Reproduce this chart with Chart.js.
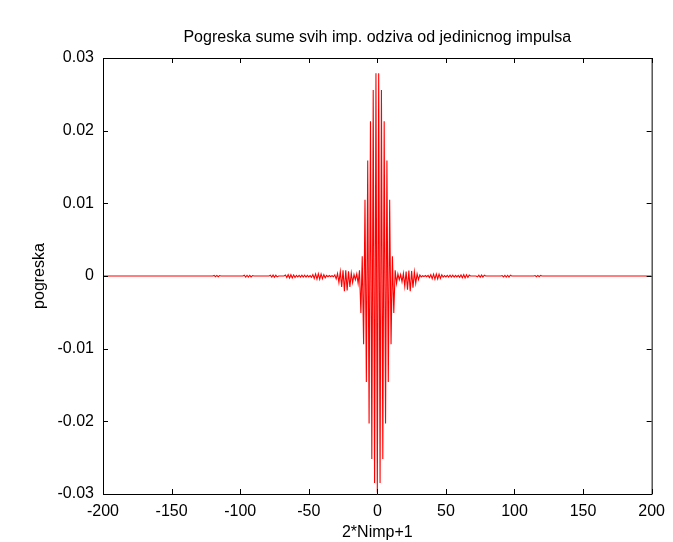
<!DOCTYPE html>
<html>
<head>
<meta charset="utf-8">
<title>Pogreska sume svih imp. odziva</title>
<script src="https://cdn.jsdelivr.net/npm/chart.js@4.4.1/dist/chart.umd.min.js"></script>
<style>
  html, body { margin: 0; padding: 0; background: #fff; }
  canvas { display: block; }
</style>
</head>
<body>
<canvas id="errChart" width="673" height="542"></canvas>
<script>
const chartTitle = 'Pogreska sume svih imp. odziva od jedinicnog impulsa';
const xLabel = '2*Nimp+1';
const yLabel = 'pogreska';

const xTicks = [-200, -150, -100, -50, 0, 50, 100, 150, 200];
const yTicks = [-0.03, -0.02, -0.01, 0, 0.01, 0.02, 0.03];

// x positions (2*Nimp+1) and the error
const nimp = [
  -200, -120,
  -119, -118, -117, -116, -115, -114,
  -98, -97, -96, -95, -94, -93, -92, -91, -90,
  -79, -78, -77, -76, -75, -74, -73, -72,
  -68, -67, -66, -65, -64, -63, -62, -61, -60, -59, -58, -57, -56, -55, -54, -53, -52, -51, -50, -49,
  -48, -47, -46, -45, -44, -43, -42, -41, -40, -39, -38, -37, -36, -35, -34, -33,
  -32, -31, -30, -29, -28, -27, -26, -25, -24, -23, -22, -21, -20, -19, -18, -17,
  -16, -15, -14, -13, -12, -11, -10, -9, -8, -7, -6, -5, -4, -3, -2, -1,
  0,
  1, 2, 3, 4, 5, 6, 7, 8, 9, 10, 11, 12, 13, 14, 15, 16,
  17, 18, 19, 20, 21, 22, 23, 24, 25, 26, 27, 28, 29, 30, 31, 32,
  33, 34, 35, 36, 37, 38, 39, 40, 41, 42, 43, 44, 45, 46, 47, 48,
  49, 50, 51, 52, 53, 54, 55, 56, 57, 58, 59, 60, 61, 62, 63, 64, 65, 66, 67, 68,
  72, 73, 74, 75, 76, 77, 78, 79,
  90, 91, 92, 93, 94, 95, 96, 97, 98,
  114, 115, 116, 117, 118, 119, 120,
  200
];
const errors = [
  0, 0,
  0.00008, -0.00010, 0.00008, -0.00010, 0.00006, 0,
  0, 0.00010, -0.00014, 0.00010, -0.00014, 0.00010, -0.00012, 0.00006, 0,
  0, 0.00010, -0.00016, 0.00012, -0.00018, 0.00010, -0.00012, 0,
  0, 0.00014, -0.00022, 0.00018, -0.00028, 0.00018, -0.00026, 0.00014, -0.00020, 0.00008, -0.00012, 0.00008, -0.00014, 0.00010, -0.00016, 0.00010, -0.00014, 0.00008, -0.00012, 0.00006,
  -0.00018, 0.00020, -0.00034, 0.00028, -0.00042, 0.00030, -0.00044, 0.00028, -0.00038, 0.00018, -0.00024, 0.00008, -0.00010, 0.00006, -0.00008, 0.00004,
  -0.00010, 0.00016, -0.00040, 0.00034, -0.00090, 0.00060, -0.00150, 0.00078, -0.00210, 0.00080, -0.00200, 0.00066, -0.00150, 0.00040, -0.00090, 0.00020,
  -0.00050, 0.00030, -0.00100, 0.00080, -0.00510, 0.00270, -0.00940, 0.01050, -0.01460, 0.01590, -0.02030, 0.02130, -0.02520, 0.02560, -0.02850, 0.02790,
  -0.02980,
  0.02790, -0.02850, 0.02560, -0.02520, 0.02130, -0.02030, 0.01590, -0.01460, 0.01050, -0.00940, 0.00270, -0.00510, 0.00080, -0.00100, 0.00030, -0.00050,
  0.00020, -0.00080, 0.00036, -0.00140, 0.00060, -0.00190, 0.00074, -0.00210, 0.00070, -0.00160, 0.00056, -0.00100, 0.00030, -0.00050, 0.00014, -0.00012,
  0.00004, -0.00008, 0.00006, -0.00010, 0.00008, -0.00022, 0.00018, -0.00036, 0.00026, -0.00042, 0.00028, -0.00040, 0.00026, -0.00032, 0.00018, -0.00016,
  0.00006, -0.00012, 0.00008, -0.00014, 0.00010, -0.00016, 0.00010, -0.00014, 0.00008, -0.00012, 0.00008, -0.00018, 0.00014, -0.00024, 0.00018, -0.00026, 0.00016, -0.00020, 0.00012, 0,
  0, -0.00012, 0.00010, -0.00018, 0.00012, -0.00016, 0.00010, 0,
  0, 0.00006, -0.00012, 0.00010, -0.00014, 0.00010, -0.00014, 0.00010, 0,
  0, 0.00006, -0.00010, 0.00008, -0.00010, 0.00008, 0,
  0
];

const fontFamily = '"Liberation Sans", Arial, Helvetica, sans-serif';

// matlab style box with inward ticks, title centred over the axes
const boxPlugin = {
  id: 'matlabBox',
  afterDraw(chart) {
    const { ctx, chartArea: a, scales } = chart;
    const len = 5;
    ctx.save();
    ctx.strokeStyle = '#000';
    ctx.lineWidth = 1;
    ctx.beginPath();
    ctx.rect(a.left + 0.5, a.top + 0.5, a.right - a.left, a.bottom - a.top);
    xTicks.forEach(v => {
      const px = Math.round(scales.x.getPixelForValue(v)) + 0.5;
      ctx.moveTo(px, a.bottom);
      ctx.lineTo(px, a.bottom - len);
      ctx.moveTo(px, a.top);
      ctx.lineTo(px, a.top + len);
    });
    yTicks.forEach(v => {
      const py = Math.round(scales.y.getPixelForValue(v)) + 0.5;
      ctx.moveTo(a.left, py);
      ctx.lineTo(a.left + len, py);
      ctx.moveTo(a.right, py);
      ctx.lineTo(a.right - len, py);
    });
    ctx.stroke();

    ctx.fillStyle = '#000';
    ctx.font = '16px ' + fontFamily;
    ctx.textAlign = 'center';
    ctx.textBaseline = 'middle';
    ctx.fillText(chartTitle, (a.left + a.right) / 2, a.top - 20);
    ctx.restore();
  }
};

const ctx = document.getElementById('errChart').getContext('2d');
new Chart(ctx, {
  type: 'line',
  data: {
    datasets: [{
      data: nimp.map((x, i) => ({ x: x, y: errors[i] })),
      borderColor: '#ff0000',
      borderWidth: 1.1,
      pointRadius: 0,
      tension: 0,
      fill: false
    }]
  },
  options: {
    responsive: false,
    animation: false,
    layout: { padding: { left: 30, right: 16, top: 58, bottom: 0 } },
    plugins: {
      legend: { display: false },
      tooltip: { enabled: false },
      title: { display: false }
    },
    scales: {
      x: {
        type: 'linear',
        min: xTicks[0],
        max: xTicks[xTicks.length - 1],
        afterBuildTicks: s => { s.ticks = xTicks.map(v => ({ value: v })); },
        afterFit: s => { s.height = 48; },
        grid: { display: false, drawTicks: false },
        border: { display: false },
        ticks: {
          color: '#000',
          padding: 8,
          maxRotation: 0,
          autoSkip: false,
          font: { family: fontFamily, size: 16 }
        },
        title: {
          display: true,
          text: xLabel,
          color: '#000',
          font: { family: fontFamily, size: 16 },
          padding: { top: 0, bottom: 0 }
        }
      },
      y: {
        min: yTicks[0],
        max: yTicks[yTicks.length - 1],
        afterBuildTicks: s => { s.ticks = yTicks.map(v => ({ value: v })); },
        afterFit: s => { s.width = 73; },
        grid: { display: false, drawTicks: false },
        border: { display: false },
        ticks: {
          color: '#000',
          padding: 9,
          autoSkip: false,
          font: { family: fontFamily, size: 16 },
          callback: v => Math.abs(v) < 1e-9 ? '0' : v.toFixed(2)
        },
        title: {
          display: true,
          text: yLabel,
          color: '#000',
          font: { family: fontFamily, size: 16 },
          padding: 0
        }
      }
    }
  },
  plugins: [boxPlugin]
});
</script>
</body>
</html>
